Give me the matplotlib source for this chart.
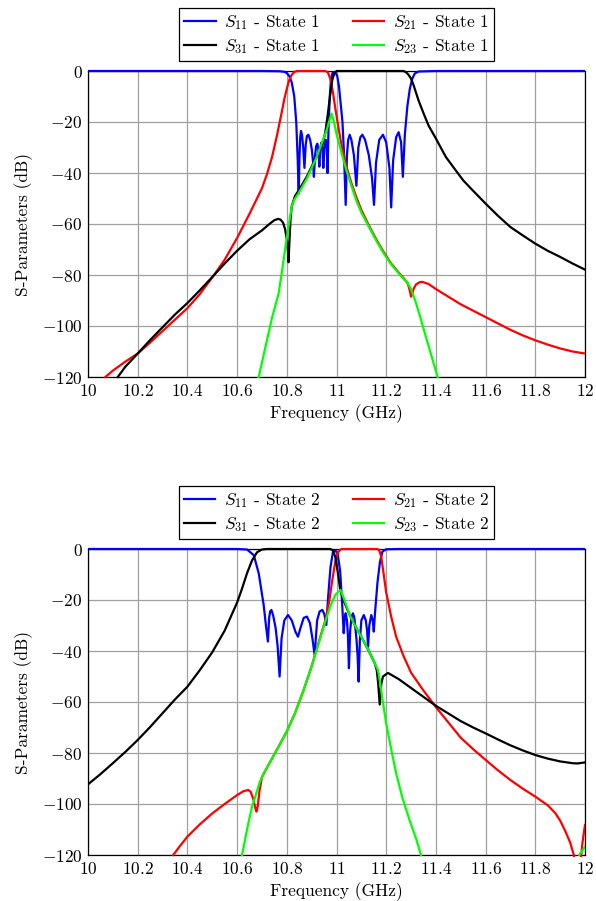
import matplotlib
matplotlib.use("Agg")
import matplotlib.pyplot as plt
from matplotlib.patches import Rectangle
from matplotlib.ticker import FuncFormatter, MultipleLocator

plt.rcParams["font.family"] = "serif"
plt.rcParams["font.serif"] = ["cmr10"]
plt.rcParams["mathtext.fontset"] = "cm"
plt.rcParams["font.size"] = 12.5

# ---------------- State 1 ----------------
f_s11_1 = [10.0, 10.7, 10.77, 10.79, 10.80, 10.81, 10.82, 10.83, 10.838, 10.844, 10.848,
           10.851, 10.854, 10.857, 10.861, 10.866, 10.871, 10.876, 10.881, 10.887, 10.894,
           10.901, 10.905, 10.909, 10.914, 10.918, 10.923, 10.927, 10.931, 10.935, 10.94,
           10.944, 10.947, 10.951, 10.957, 10.961, 10.964, 10.968, 10.973, 10.978, 10.985,
           10.995, 11.003, 11.01, 11.018, 11.024, 11.03, 11.037, 11.042, 11.047, 11.053,
           11.06, 11.07, 11.08, 11.088, 11.096, 11.104, 11.115, 11.13, 11.143, 11.151,
           11.159, 11.172, 11.187, 11.2, 11.213, 11.22, 11.228, 11.24, 11.25, 11.26,
           11.267, 11.275, 11.285, 11.295, 11.305, 11.315, 11.33, 11.4, 12.0]
s11_1 = [0, 0, -0.1, -0.3, -0.8, -2, -4.5, -10, -20, -35, -48,
         -34, -26, -23.5, -25, -30, -38, -29, -25.5, -25, -27,
         -31, -35, -41.5, -33, -29.5, -28.5, -31, -37.5, -30, -28,
         -31, -38, -30, -27, -31, -40, -22, -10, -3, -0.5,
         -0.5, -2, -6, -14, -20, -32, -52.5, -33, -27, -25,
         -27, -33, -45, -30, -26, -25, -27, -33, -42, -52.5,
         -36, -27, -25, -28, -38, -53.5, -35, -26, -24, -28,
         -41.5, -25, -14, -7, -3, -1, -0.2, 0, 0]

f_s21_1 = [10.07, 10.1, 10.15, 10.2, 10.25, 10.3, 10.35, 10.4, 10.45, 10.5, 10.55, 10.6,
           10.65, 10.7, 10.72, 10.74, 10.76, 10.78, 10.79, 10.8, 10.81, 10.82, 10.83, 10.84,
           10.955, 10.965, 10.975, 10.985, 10.995, 11.005, 11.02, 11.04, 11.06, 11.08, 11.1,
           11.13, 11.16, 11.19, 11.22, 11.25, 11.27, 11.285, 11.292, 11.297, 11.3, 11.305,
           11.31, 11.32, 11.335, 11.345, 11.37, 11.4, 11.45, 11.5, 11.55, 11.6, 11.65, 11.7,
           11.75, 11.8, 11.85, 11.9, 11.95, 12.0]
s21_1 = [-120, -117.5, -114, -110.8, -106.5, -102, -97.5, -93, -87.5, -81, -74, -65.5,
         -56, -46, -40.5, -34, -25.5, -16, -11, -7, -3.5, -1.5, -0.4, 0,
         0, -0.5, -3, -8, -14.5, -20.5, -29, -37.5, -44, -49.5, -54.5,
         -60.5, -66, -71, -75.5, -79, -81.2, -83, -85, -87, -88.5, -87.5,
         -85.5, -83.7, -82.8, -82.7, -83.5, -85.5, -88.5, -91.5, -94, -96.5, -99, -101.5,
         -103.7, -105.6, -107.3, -108.8, -110, -110.8]

f_s31_1 = [10.12, 10.15, 10.2, 10.25, 10.3, 10.35, 10.4, 10.45, 10.5, 10.55, 10.6, 10.65,
           10.7, 10.73, 10.75, 10.765, 10.775, 10.785, 10.793, 10.8, 10.804, 10.807, 10.81,
           10.815, 10.82, 10.833, 10.85, 10.88, 10.92, 10.945, 10.955, 10.965, 10.975,
           10.983, 10.992, 11.0, 11.27, 11.28, 11.29, 11.3, 11.31, 11.32, 11.33, 11.35,
           11.37, 11.4, 11.44, 11.48, 11.51, 11.55, 11.6, 11.65, 11.7, 11.75, 11.8, 11.85,
           11.9, 11.95, 12.0]
s31_1 = [-120, -116, -110.8, -105.5, -100.5, -95.5, -91, -86, -80.8, -75.5, -70.5, -66,
         -62.5, -60, -58.5, -58, -58.3, -59.5, -62, -66, -70, -75, -68,
         -58, -53, -49, -46.5, -41.5, -33.5, -28.5, -24, -17, -9,
         -3.5, -0.8, 0, 0, -0.5, -1.5, -3, -5.5, -8.5, -11.5, -16.5,
         -21.3, -26.5, -33.7, -39, -42.9, -47, -52, -56.8, -61.2, -64.5, -67.7, -70.5,
         -72.9, -75.5, -77.9]

f_s23_1 = [10.687, 10.71, 10.74, 10.767, 10.78, 10.793, 10.807, 10.82, 10.83, 10.847,
           10.88, 10.92, 10.96, 10.98, 10.99, 11.0, 11.02, 11.04, 11.06, 11.08, 11.1, 11.13,
           11.16, 11.19, 11.22, 11.25, 11.27, 11.285, 11.3, 11.32, 11.34, 11.36, 11.38,
           11.407]
s23_1 = [-120, -110, -97, -87.3, -79, -70, -61, -53, -50.5, -48,
         -42.3, -33.8, -23.3, -16.7, -20, -24.6, -32, -39, -45, -50.8, -55.5, -61,
         -66.5, -71.5, -75.8, -79.3, -81.5, -83, -85.5, -91, -97.5, -104.3, -111,
         -120]

# ---------------- State 2 ----------------
f_s11_2 = [10.0, 10.6, 10.64, 10.667, 10.687, 10.707, 10.716, 10.724, 10.729, 10.733,
           10.738, 10.745, 10.755, 10.763, 10.771, 10.779, 10.79, 10.805, 10.82, 10.835,
           10.845, 10.855, 10.868, 10.881, 10.893, 10.903, 10.912, 10.922, 10.932, 10.943,
           10.951, 10.959, 10.967, 10.976, 10.986, 10.995, 11.005, 11.015, 11.023, 11.029,
           11.033, 11.037, 11.042, 11.046, 11.05, 11.055, 11.06, 11.066, 11.072, 11.08,
           11.085, 11.089, 11.094, 11.1, 11.11, 11.118, 11.123, 11.127, 11.132, 11.14,
           11.146, 11.15, 11.155, 11.165, 11.175, 11.185, 11.2, 11.25, 12.0]
s11_2 = [0, 0, -0.2, -2.4, -9.5, -22, -30, -36.3, -27, -24.5,
         -23.9, -26, -31, -38, -50, -35, -28, -25.9, -28, -32.5,
         -34.4, -31, -27, -26.5, -29, -35, -41.6, -28, -24.5, -23.9,
         -25.5, -29.8, -18, -7, -1, -0.5, -2, -9, -22, -33,
         -27, -25.2, -28, -34, -46.8, -32, -27, -25.2, -27, -35,
         -42, -52, -36, -28, -25.9, -28, -32, -38.3, -30, -25.9,
         -28, -32.4, -25, -13, -5, -1, -0.1, 0, 0]

f_s21_2 = [10.343, 10.37, 10.4, 10.45, 10.5, 10.55, 10.6, 10.625, 10.645, 10.655, 10.665,
           10.673, 10.678, 10.683, 10.69, 10.7, 10.73, 10.767, 10.8, 10.833, 10.867, 10.9,
           10.93, 10.955, 10.97, 10.985, 10.995, 11.005, 11.015, 11.02, 11.165, 11.172,
           11.18, 11.19, 11.2, 11.22, 11.24, 11.27, 11.3, 11.35, 11.4, 11.45, 11.5, 11.55,
           11.6, 11.65, 11.7, 11.75, 11.8, 11.85, 11.88, 11.9, 11.92, 11.94, 11.955, 11.972,
           11.984, 11.99, 12.0]
s21_2 = [-120, -116.5, -112.8, -108, -103.7, -100, -96.5, -95, -94.5, -95.3, -98,
         -101.5, -103, -101, -95, -89.5, -84, -77.5, -71.5, -64.4, -55.5, -46,
         -36, -28, -21, -11, -5, -1.5, -0.3, 0, 0, -0.5,
         -3, -10, -17, -26.5, -34.4, -42, -48.5, -55.5, -62, -68, -74, -78.5,
         -82.7, -86.8, -90.6, -94, -97.1, -100.5, -103.5, -106.5, -110.5, -115, -120, -135,
         -121, -115, -108.2]

f_s31_2 = [10.0, 10.05, 10.1, 10.15, 10.2, 10.25, 10.3, 10.35, 10.4, 10.45, 10.5, 10.55,
           10.6, 10.62, 10.64, 10.66, 10.68, 10.7, 10.72, 10.975, 10.985, 10.995, 11.005,
           11.015, 11.03, 11.053, 11.08, 11.107, 11.13, 11.154, 11.162, 11.168, 11.174,
           11.18, 11.187, 11.207, 11.25, 11.3, 11.35, 11.4, 11.45, 11.5, 11.55, 11.6, 11.65,
           11.7, 11.75, 11.8, 11.85, 11.9, 11.95, 11.97, 12.0]
s31_2 = [-92.3, -88.3, -84, -79.6, -74.9, -69.8, -64.4, -59, -54, -47.5, -40.5, -32,
         -21, -15.5, -9.5, -4.5, -1.3, -0.2, 0, 0, -0.5, -3, -9,
         -16, -20.5, -25.9, -31, -35.7, -40, -44.8, -47.5, -53, -61,
         -53, -50, -48.6, -51, -54.5, -58, -61.5, -64.5, -67.5, -70, -72.3, -74.7,
         -77, -79, -80.8, -82.2, -83.3, -84, -84.1, -83.7]

f_s23_2 = [10.62, 10.64, 10.66, 10.68, 10.693, 10.707, 10.73, 10.767, 10.8, 10.833, 10.867,
           10.9, 10.93, 10.953, 10.975, 10.995, 11.016, 11.03, 11.053, 11.08, 11.107, 11.13,
           11.154, 11.167, 11.175, 11.185, 11.2, 11.22, 11.24, 11.265, 11.294, 11.32, 11.34]
s23_2 = [-120, -110, -101, -95, -91, -88, -84, -77.5, -71.5, -64.4, -55.5,
         -46, -36.5, -29, -22.5, -18, -16, -19.5, -25.9, -31, -35.7, -40,
         -44.8, -47.5, -52, -59, -68.4, -78.5, -87.9, -97.5, -106.3, -113.5, -120]
f_s23_2b = [11.977, 12.0]
s23_2b = [-120, -116.7]

W, H = 596, 901
fig = plt.figure(figsize=(W / 100, H / 100), dpi=100)

colors = {"s11": "#0000ff", "s21": "#ff0000", "s31": "#000000", "s23": "#00ff00"}


def make_axes(top_px, bottom_px, curves, state):
    ax = fig.add_axes([88 / W, 1 - bottom_px / H, (585 - 88) / W, (bottom_px - top_px) / H])
    clip = Rectangle((0, -0.005), 1, 1.012, transform=ax.transAxes, visible=False)
    ax.add_patch(clip)
    names = [("s11", r"$S_{11}$ - State %d" % state),
             ("s21", r"$S_{21}$ - State %d" % state),
             ("s31", r"$S_{31}$ - State %d" % state),
             ("s23", r"$S_{23}$ - State %d" % state)]
    handles = {}
    for key, label in names:
        for i, (f, s) in enumerate(curves[key]):
            ln, = ax.plot(f, s, color=colors[key], lw=1.6, zorder=3, label=label)
            ln.set_clip_path(clip)
            if i == 0:
                handles[key] = (ln, label)
    ax.set_xlim(10, 12)
    ax.set_ylim(-120, 0)
    ax.xaxis.set_major_locator(MultipleLocator(0.2))
    ax.yaxis.set_major_locator(MultipleLocator(20))
    fmt = FuncFormatter(lambda v, p: r"$%g$" % round(v, 2))
    ax.xaxis.set_major_formatter(fmt)
    ax.yaxis.set_major_formatter(fmt)
    ax.grid(True, color="#a0a0a0", lw=0.9)
    ax.set_axisbelow(True)
    ax.tick_params(length=0, pad=4)
    for sp in ax.spines.values():
        sp.set_linewidth(0.9)
    ax.set_xlabel("Frequency (GHz)", labelpad=4)
    ax.set_ylabel("S-Parameters (dB)", labelpad=6)
    # row-wise order: S11, S21 / S31, S23
    order = ["s11", "s31", "s21", "s23"]
    leg = ax.legend([handles[k][0] for k in order], [handles[k][1] for k in order],
                    loc="lower center", bbox_to_anchor=(0.5, 1.033), ncol=2,
                    borderaxespad=0, fancybox=False, edgecolor="black", framealpha=1,
                    handlelength=1.8, columnspacing=1.9, handletextpad=0.5,
                    borderpad=0.3, labelspacing=0.25, fontsize=12.5)
    leg.get_frame().set_linewidth(0.9)
    return ax


make_axes(71, 377, {
    "s11": [(f_s11_1, s11_1)],
    "s21": [(f_s21_1, s21_1)],
    "s31": [(f_s31_1, s31_1)],
    "s23": [(f_s23_1, s23_1)],
}, 1)

make_axes(549, 855, {
    "s11": [(f_s11_2, s11_2)],
    "s21": [(f_s21_2, s21_2)],
    "s31": [(f_s31_2, s31_2)],
    "s23": [(f_s23_2, s23_2), (f_s23_2b, s23_2b)],
}, 2)

fig.savefig("out.png", dpi=100)
